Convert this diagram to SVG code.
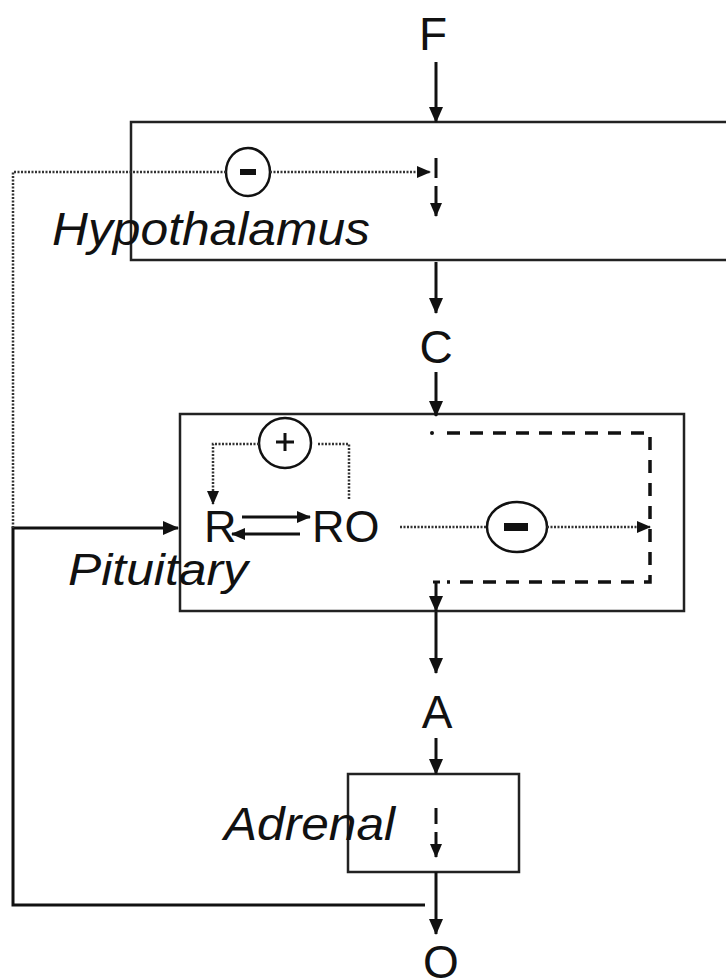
<svg xmlns="http://www.w3.org/2000/svg" width="726" height="980" viewBox="0 0 726 980">
<style>
.box{fill:none;stroke:#222;stroke-width:2.5}
.ln{fill:none;stroke:#111;stroke-width:3}
.dot{fill:none;stroke:#333;stroke-width:2.5;stroke-dasharray:2 1.5}
.dash{fill:none;stroke:#111;stroke-width:3.5;stroke-dasharray:13 10}
.lbl{font-family:"Liberation Sans",Arial,sans-serif;font-size:46px;fill:#111}
.it{font-family:"Liberation Sans",Arial,sans-serif;font-style:italic;fill:#111}
.circ{fill:none;stroke:#111;stroke-width:2.5}
</style>
<defs>
<marker id="ah" markerUnits="userSpaceOnUse" markerWidth="16" markerHeight="14" refX="15" refY="7" orient="auto">
<path d="M0,0 L16,7 L0,14 Z" fill="#111"/>
</marker>
<marker id="ahs" markerUnits="userSpaceOnUse" markerWidth="14" markerHeight="12" refX="13" refY="6" orient="auto">
<path d="M0,0 L14,6 L0,12 Z" fill="#111"/>
</marker>
</defs>

<g id="hypothalamus">
<rect class="box" x="131" y="122" width="620" height="138"/>
<text class="it" x="52" y="245" font-size="46" textLength="318" lengthAdjust="spacingAndGlyphs">Hypothalamus</text>
</g>
<g id="pituitary">
<rect class="box" x="180" y="414" width="504" height="197"/>
<text class="it" x="68" y="585" font-size="44" textLength="180" lengthAdjust="spacingAndGlyphs">Pituitary</text>
</g>
<g id="adrenal">
<rect class="box" x="348" y="774" width="171" height="98"/>
<text class="it" x="224" y="840" font-size="46" textLength="171" lengthAdjust="spacingAndGlyphs">Adrenal</text>
</g>

<g id="labels">
<text class="lbl" x="433" y="50" text-anchor="middle">F</text>
<text class="lbl" x="436" y="363" text-anchor="middle">C</text>
<text class="lbl" x="437" y="728" text-anchor="middle">A</text>
<text class="lbl" x="441" y="978" text-anchor="middle">O</text>
<text class="lbl" x="204" y="542" style="font-size:45px">R</text>
<text class="lbl" x="312" y="542" style="font-size:45px">RO</text>
</g>

<g id="minus-hyp">
<ellipse class="circ" cx="248" cy="172" rx="22" ry="24"/>
<rect x="240" y="169" width="16" height="6" fill="#111"/>
</g>
<g id="plus-pit">
<ellipse class="circ" cx="285" cy="443" rx="26" ry="25"/>
<path d="M276,442 H294 M285,433 V451" stroke="#111" stroke-width="3"/>
</g>
<g id="minus-pit">
<ellipse class="circ" cx="517" cy="527" rx="30" ry="25"/>
<rect x="504" y="523" width="24" height="8" fill="#111"/>
</g>

<g id="connectors">
<path class="ln" d="M436,62 V122" marker-end="url(#ah)"/>
<path class="ln" d="M436,158 V178"/>
<path class="ln" d="M436,186 V216" marker-end="url(#ahs)"/>
<path class="ln" d="M436,262 V313" marker-end="url(#ah)"/>
<path class="ln" d="M436,372 V416" marker-end="url(#ah)"/>
<path class="ln" d="M433,582 H440 M436,582 V611" marker-end="url(#ah)"/>
<path class="ln" d="M436,612 V673" marker-end="url(#ah)"/>
<path class="ln" d="M436,738 V774" marker-end="url(#ah)"/>
<path class="ln" d="M436,808 V824"/>
<path class="ln" d="M436,832 V857" marker-end="url(#ahs)"/>
<path class="ln" d="M436,872 V934" marker-end="url(#ah)"/>
<circle cx="432" cy="433" r="2" fill="#111"/>
<path class="dash" d="M447,433 H650 V582 H447"/>
<path class="ln" d="M425,905 H13 V528 H178" marker-end="url(#ah)"/>
<path class="dot" d="M13,528 V172 H226"/>
<path class="dot" d="M270,172 H430" marker-end="url(#ahs)"/>
<path class="dot" d="M259,444 H213 V504" marker-end="url(#ahs)"/>
<path class="dot" d="M318,444 H349 V500"/>
<path class="ln" d="M242,517 H310" marker-end="url(#ahs)"/>
<path class="ln" d="M300,534 H232" marker-end="url(#ahs)"/>
<path class="dot" d="M400,527 H487"/>
<path class="dot" d="M547,527 H650" marker-end="url(#ahs)"/>
</g>
</svg>
